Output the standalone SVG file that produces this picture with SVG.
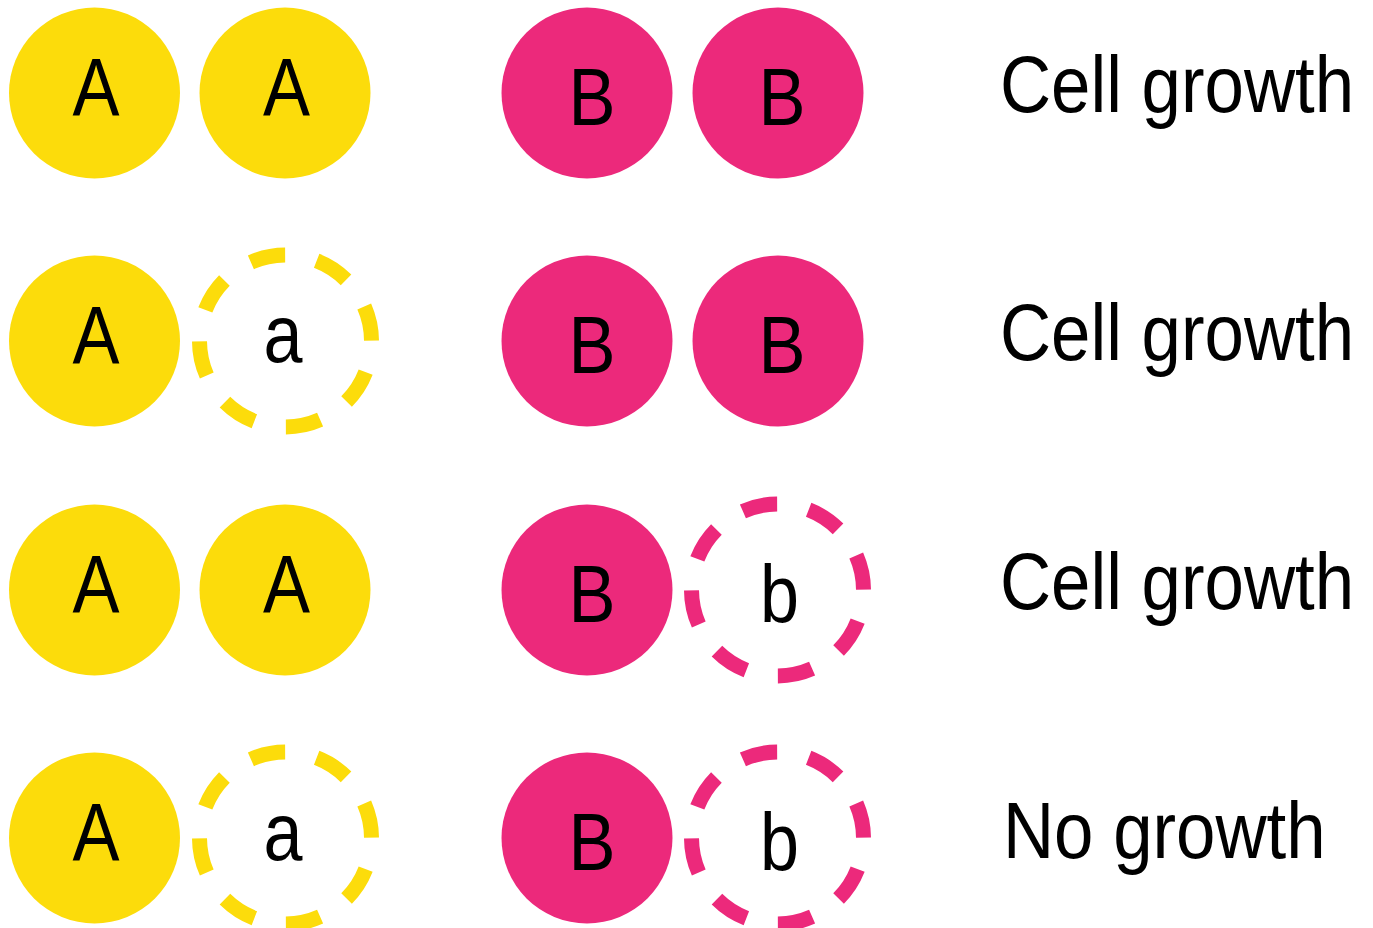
<svg xmlns="http://www.w3.org/2000/svg" width="1373" height="928" viewBox="0 0 1373 928">
<style>
.ya{fill:#FCDC0B}
.pb{fill:#EC297B}
.yd{fill:none;stroke:#FCDC0B;stroke-width:15;stroke-dasharray:23.5 21.5;stroke-dashoffset:-21.25}
.pd{fill:none;stroke:#EC297B;stroke-width:15;stroke-dasharray:23.5 21.5;stroke-dashoffset:-21.25}
.t{font-family:"Liberation Sans",Arial,sans-serif;font-size:81px;fill:#000;text-anchor:middle}
.lab{font-family:"Liberation Sans",Arial,sans-serif;font-size:80px;fill:#000}
</style>
<rect width="1373" height="928" fill="#fff"/>
<!-- Row 1 -->
<g id="r1-A1"><circle class="ya" cx="94.5" cy="93" r="85.5"/><text class="t" x="96" y="115" textLength="47" lengthAdjust="spacingAndGlyphs">A</text></g>
<g id="r1-A2"><circle class="ya" cx="285" cy="93" r="85.5"/><text class="t" x="286.5" y="115" textLength="47" lengthAdjust="spacingAndGlyphs">A</text></g>
<g id="r1-B1"><circle class="pb" cx="587" cy="93" r="85.5"/><text class="t" x="592" y="125" textLength="47" lengthAdjust="spacingAndGlyphs">B</text></g>
<g id="r1-B2"><circle class="pb" cx="778" cy="93" r="85.5"/><text class="t" x="782" y="125" textLength="47" lengthAdjust="spacingAndGlyphs">B</text></g>
<g id="r1-label"><text class="lab" transform="translate(1000,112) scale(0.885,1)" x="0" y="0">Cell growth</text></g>
<!-- Row 2 -->
<g id="r2-A1"><circle class="ya" cx="94.5" cy="341" r="85.5"/><text class="t" x="96" y="363" textLength="47" lengthAdjust="spacingAndGlyphs">A</text></g>
<g id="r2-a2"><circle class="yd" cx="285.5" cy="341" r="86" pathLength="360"/><text class="t" x="283" y="362" textLength="39" lengthAdjust="spacingAndGlyphs">a</text></g>
<g id="r2-B1"><circle class="pb" cx="587" cy="341" r="85.5"/><text class="t" x="592" y="373" textLength="47" lengthAdjust="spacingAndGlyphs">B</text></g>
<g id="r2-B2"><circle class="pb" cx="778" cy="341" r="85.5"/><text class="t" x="782" y="373" textLength="47" lengthAdjust="spacingAndGlyphs">B</text></g>
<g id="r2-label"><text class="lab" transform="translate(1000,360) scale(0.885,1)" x="0" y="0">Cell growth</text></g>
<!-- Row 3 -->
<g id="r3-A1"><circle class="ya" cx="94.5" cy="590" r="85.5"/><text class="t" x="96" y="612" textLength="47" lengthAdjust="spacingAndGlyphs">A</text></g>
<g id="r3-A2"><circle class="ya" cx="285" cy="590" r="85.5"/><text class="t" x="286.5" y="612" textLength="47" lengthAdjust="spacingAndGlyphs">A</text></g>
<g id="r3-B1"><circle class="pb" cx="587" cy="590" r="85.5"/><text class="t" x="592" y="622" textLength="47" lengthAdjust="spacingAndGlyphs">B</text></g>
<g id="r3-b2"><circle class="pd" cx="777.5" cy="590" r="86" pathLength="360"/><text class="t" x="779.5" y="622" textLength="39" lengthAdjust="spacingAndGlyphs">b</text></g>
<g id="r3-label"><text class="lab" transform="translate(1000,609) scale(0.885,1)" x="0" y="0">Cell growth</text></g>
<!-- Row 4 -->
<g id="r4-A1"><circle class="ya" cx="94.5" cy="838" r="85.5"/><text class="t" x="96" y="860" textLength="47" lengthAdjust="spacingAndGlyphs">A</text></g>
<g id="r4-a2"><circle class="yd" cx="285.5" cy="838" r="86" pathLength="360"/><text class="t" x="283" y="860" textLength="39" lengthAdjust="spacingAndGlyphs">a</text></g>
<g id="r4-B1"><circle class="pb" cx="587" cy="838" r="85.5"/><text class="t" x="592" y="870" textLength="47" lengthAdjust="spacingAndGlyphs">B</text></g>
<g id="r4-b2"><circle class="pd" cx="777.5" cy="838" r="86" pathLength="360"/><text class="t" x="779.5" y="870" textLength="39" lengthAdjust="spacingAndGlyphs">b</text></g>
<g id="r4-label"><text class="lab" transform="translate(1003,858) scale(0.885,1)" x="0" y="0">No growth</text></g>
<g id="connectors"/>
</svg>
